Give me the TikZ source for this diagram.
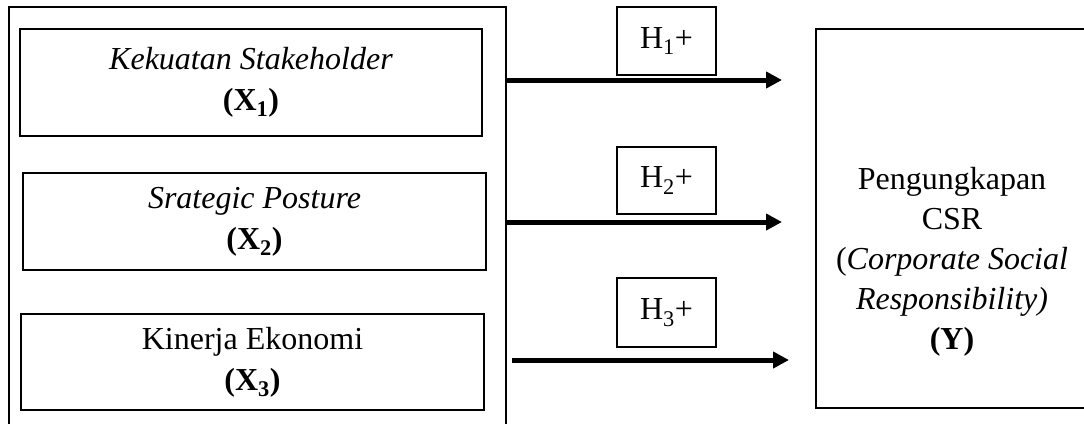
\documentclass[tikz,border=0pt]{standalone}
\usepackage{fontspec}
\setmainfont{Liberation Serif}
\usetikzlibrary{arrows.meta}
\begin{document}
\begin{tikzpicture}[x=1bp,y=-1bp,
  every node/.style={font=\fontsize{32bp}{41bp}\selectfont, align=center, inner sep=0pt},
  frame/.style={draw, line width=2bp},
  varbox/.style={draw, line width=1.4bp},
  hbox/.style={draw, line width=1.4bp, minimum width=99bp},
  link/.style={line width=5bp, -{Triangle[length=16bp,width=16bp]}}
]
\useasboundingbox (0,0) rectangle (1084,423);

% group of independent variables (open at the bottom of the page)
\node[frame, minimum width=497bp, minimum height=430bp] (group) at (257.5,222) {};

% independent variables
\node[varbox, minimum width=462bp, minimum height=107bp] (x1) at (251,82.5)
  {\textit{Kekuatan Stakeholder}\\\textbf{(X\textsubscript{1})}};
\node[varbox, minimum width=463bp, minimum height=97bp] (x2) at (254.5,221.5)
  {\textit{Srategic Posture}\\\textbf{(X\textsubscript{2})}};
\node[varbox, minimum width=463bp, minimum height=96bp] (x3) at (252.5,362)
  {Kinerja Ekonomi\\\textbf{(X\textsubscript{3})}};

% hypotheses
\node[hbox, minimum height=68bp] (h1) at (666.5,41) {H\textsubscript{1}+};
\node[hbox, minimum height=67bp] (h2) at (666.5,180.5) {H\textsubscript{2}+};
\node[hbox, minimum height=69bp] (h3) at (666.5,312.5) {H\textsubscript{3}+};

% dependent variable
\node[varbox, minimum width=272bp, minimum height=379bp] (y) at (952,218.5) {};
\node[font=\fontsize{32bp}{40bp}\selectfont] (ytext) at (952,262)
  {Pengungkapan\\CSR\\(\textit{Corporate Social}\\\textit{Responsibility)}\\\textbf{(Y)}};

% arrows
\coordinate (t1) at (782,80);
\coordinate (t2) at (782,222);
\coordinate (s3) at (512,360);
\coordinate (t3) at (789,360);
\draw[link] (group.east |- t1) -- (t1);
\draw[link] (group.east |- t2) -- (t2);
\draw[link] (s3) -- (t3);
\end{tikzpicture}
\end{document}
